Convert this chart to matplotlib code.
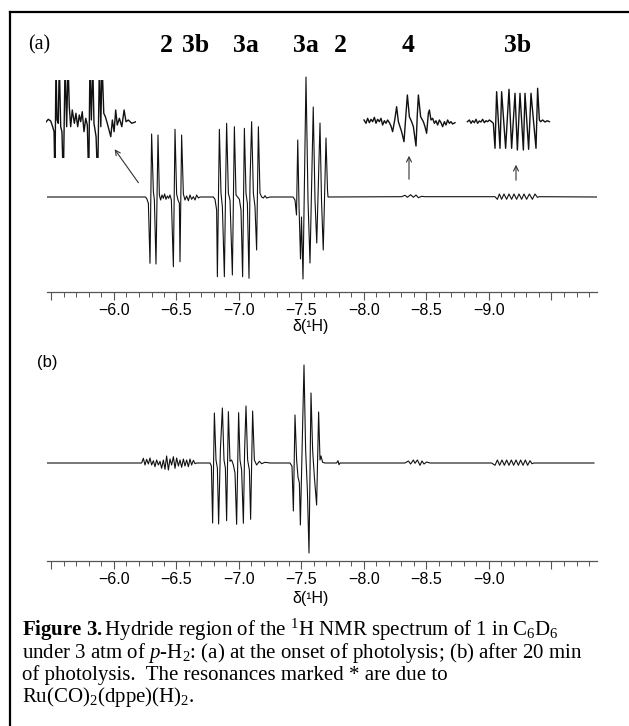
import matplotlib
matplotlib.use("Agg")
import matplotlib.pyplot as plt
from matplotlib.lines import Line2D
from matplotlib.ticker import FixedLocator, MultipleLocator, FuncFormatter
from matplotlib.transforms import blended_transform_factory

plt.rcParams['font.family'] = ['Liberation Sans', 'DejaVu Sans']
plt.rcParams['mathtext.fontset'] = 'custom'
plt.rcParams['mathtext.rm'] = 'Liberation Serif'
plt.rcParams['mathtext.it'] = 'Liberation Serif:italic'
plt.rcParams['mathtext.bf'] = 'Liberation Serif:bold'

# -------------------------
# data (ppm, intensity a.u.)
# -------------------------
# (a) onset of photolysis
a_ppm = [-5.46, -6.25,
         -6.261, -6.275, -6.288, -6.301, -6.315, -6.323, -6.336, -6.352, -6.363, -6.373,
         -6.384, -6.395, -6.405, -6.416, -6.427, -6.437, -6.448, -6.459, -6.475, -6.488,
         -6.501, -6.512, -6.523, -6.528, -6.541, -6.555, -6.568, -6.581, -6.595, -6.608,
         -6.621, -6.635, -6.648, -6.661, -6.675, -6.688,
         -6.795, -6.808, -6.821, -6.827, -6.843, -6.856, -6.867, -6.883, -6.893, -6.901,
         -6.915, -6.928, -6.947, -6.963, -6.976, -6.989, -7.003, -7.016, -7.029, -7.043,
         -7.056, -7.067, -7.080, -7.088, -7.101, -7.115, -7.128, -7.141, -7.155, -7.168,
         -7.181, -7.195, -7.208, -7.221, -7.248,
         -7.432, -7.448, -7.460, -7.470, -7.480, -7.492, -7.500, -7.512, -7.536, -7.552,
         -7.568, -7.594, -7.608, -7.622, -7.648, -7.660, -7.674, -7.696, -7.708, -7.712,
         -8.301, -8.328, -8.347, -8.373, -8.395, -8.416, -8.435, -8.461, -8.488,
         -9.048, -9.067, -9.083, -9.101, -9.120, -9.141, -9.160, -9.181, -9.200, -9.221,
         -9.240, -9.261, -9.280, -9.301, -9.323, -9.347, -9.368, -9.387, -9.403, -9.86]
a_int = [0, 0,
         -1.3, -6.3, -66.3, 63, 5.3, -3, -67, 62, 2, -3,
         2, -1.3, 3, -2.3, 1, -1.3, 2, -3, -69.7, 67.7,
         3, -3, -6.3, -64.7, 62, 3, -3, 1, -3.7, 2,
         -2.3, 0.3, -3, 2, -1, 0,
         0, -2.3, -13, -79.7, 67.7, 3.7, -9.7, -79.7, 10.3, 73.7,
         3.7, -3, -78, 70.3, 2, 0, -2.3, -13, -79.7, 68.7,
         3.7, -6.3, -81.3, 13.7, 75.3, 3.7, -9.7, -53, 70.3, 3.7,
         0, -1, 1.3, -1, 0,
         0, -3, -18, 57, -8, -62, -20, -82, 120, -3,
         -66, 90, -3, -46, 74, -3, -53, 59, 7, 0,
         0.3, 1.7, -0.3, 2.3, -0.3, 2, -0.7, 0.7, 0.3,
         0.3, -2.3, 3, -2.3, 3, -2.3, 3, -2.3, 3, -2.3,
         3, -2.3, 3, -2.3, 3, -2.3, 3, -0.3, 0.3, 0]

# (b) after 20 min of photolysis
b_ppm = [-5.46, -6.221,
         -6.235, -6.248, -6.261, -6.275, -6.288, -6.301, -6.315, -6.328, -6.341, -6.355,
         -6.368, -6.381, -6.395, -6.408, -6.421, -6.435, -6.448, -6.461, -6.475, -6.488,
         -6.501, -6.515, -6.528, -6.541, -6.555, -6.568, -6.581, -6.595, -6.608, -6.621,
         -6.635, -6.648, -6.661,
         -6.768, -6.779, -6.789, -6.803, -6.816, -6.827, -6.837, -6.851, -6.867, -6.880,
         -6.891, -6.901, -6.915, -6.928, -6.941, -6.955, -6.968, -6.981, -6.997, -7.008,
         -7.021, -7.035, -7.045, -7.056, -7.069, -7.083, -7.093, -7.109, -7.123, -7.141,
         -7.163, -7.181, -7.208, -7.248,
         -7.408, -7.424, -7.435, -7.448, -7.461, -7.472, -7.483, -7.491, -7.520, -7.533,
         -7.547, -7.560, -7.576, -7.589, -7.603, -7.621, -7.637, -7.648, -7.656, -7.669,
         -7.688, -7.781, -7.792, -7.800, -7.808,
         -8.328, -8.355, -8.373, -8.395, -8.408, -8.427, -8.448, -8.464, -8.480, -8.501,
         -8.528,
         -9.021, -9.048, -9.067, -9.085, -9.104, -9.123, -9.141, -9.160, -9.179, -9.197,
         -9.216, -9.235, -9.253, -9.272, -9.291, -9.309, -9.328, -9.344, -9.360, -9.84]
b_int = [0, 0,
         4.7, -2, 3.7, -1, 5, -2, 2.3, -3.7, 3, -2,
         1.7, -5.3, 3, -6.3, 7, -7, 4, -2, 6.3, -5.3,
         5, -3, 3, -4.3, 4, -3, 3, -3.7, 4, -2,
         2.7, -0.7, 0,
         0, -3, -60, 50, 3, -5, -61, 13, 55, 3,
         -5, -57.7, 51.3, 1.7, 3, -2, -10, -61.3, 50.3, 3,
         -7, -60.3, 13, 57, 3, -7, -56.3, 52, 3, -2,
         1.7, -0.7, 0.7, 0,
         0, -3.3, -48, 48, 3, -14, -20, -62, 98, 13,
         -27, -90, 70, 13, -14, -42, 51, 3, 7, 0.7,
         0, 0, 2.3, -1.7, 0,
         0, 2, -1, 3, -0.3, 3, -2.3, 2, -1, 1,
         0,
         0, -2.3, 3, -2.3, 3, -2.3, 3, -2.3, 3, -2.3,
         3, -2.3, 3, -2.3, 3, -2.3, 2.3, -0.7, 0, 0]

# expansion of the first multiplet (top left inset)
inset1_ppm = [-6.230, -6.243, -6.257, -6.268, -6.276, -6.281, -6.287, -6.293, -6.300, -6.306,
              -6.314, -6.321, -6.329, -6.339, -6.348, -6.356, -6.363, -6.371, -6.380, -6.392,
              -6.401, -6.411, -6.420, -6.428, -6.437, -6.447, -6.457, -6.466, -6.474, -6.481,
              -6.489, -6.497, -6.504, -6.516, -6.525, -6.535, -6.543, -6.550, -6.560, -6.569,
              -6.580, -6.590, -6.600, -6.609, -6.619, -6.628, -6.637, -6.649, -6.663, -6.676,
              -6.687, -6.700, -6.720, -6.744]
inset1_int = [0, 2.7, 1, -4.7, -9.7, -60, 60, 2, -1.3, 60,
              -4.7, -9.7, -60, 60, -4.7, 60, 15.3, -4.7, 12, -1.3,
              8.7, -4.7, 7, 0.3, 10.3, -9.7, 3.7, -3, -60, 60,
              2, 60, -1.3, -14.7, -60, 60, -4.7, 60, 8.7, 5.3,
              -1.3, -8, -14.7, 2, -9.7, 12, -3, 3.7, -4.7, 12,
              0.3, 2, -1.3, 0.3]

# vertical expansions of the weak resonances of 4 and 3b
inset4_ppm = [-8.000, -8.016, -8.029, -8.043, -8.056, -8.069, -8.083, -8.096, -8.109, -8.123,
              -8.136, -8.149, -8.163, -8.176, -8.189, -8.203, -8.216, -8.229, -8.248, -8.261,
              -8.275, -8.288, -8.301, -8.320, -8.336, -8.347, -8.363, -8.381, -8.395, -8.416,
              -8.427, -8.435, -8.453, -8.475, -8.488, -8.501, -8.515, -8.523, -8.536, -8.549,
              -8.563, -8.576, -8.589, -8.603, -8.616, -8.629, -8.643, -8.656, -8.669, -8.683,
              -8.696, -8.709, -8.728]
inset4_int = [1.7, -1.6, 3.4, -1.0, 2.4, 0.0, 4.4, -1.6, 2.4, 0.0,
              3.4, -3.3, 1.0, -1.6, 1.7, -1.0, -4.3, -10.0, 3.4, 15.0,
              0.0, -5.0, -10.0, -20.0, 8.4, 26.7, 5.0, 0.0, -5.0, -24.3,
              8.4, 26.7, 5.0, 0.0, -5.0, -11.6, 8.4, 11.7, 1.7, 3.4,
              -1.6, 1.0, -3.3, 1.7, -1.0, -5.0, 0.0, -3.3, 1.7, -1.6,
              0.0, -2.3, -1.0]

inset3b_ppm = [-8.827, -8.843, -8.856, -8.869, -8.883, -8.896, -8.909, -8.923, -8.936, -8.949,
               -8.963, -8.976, -8.989, -9.003, -9.021, -9.035, -9.048, -9.061, -9.088, -9.101,
               -9.133, -9.160, -9.181, -9.208, -9.227, -9.248, -9.275, -9.288, -9.317, -9.336,
               -9.376, -9.389, -9.403, -9.413, -9.429, -9.448, -9.467, -9.483]
inset3b_int = [0, 1.7, -1.6, 1, -1, 2.4, -1.6, 0.7, -0.3, 2.4,
               -1, 1, 0, 1.7, 0, -1.6, -26.6, 30, -26.6, 30,
               -26.6, 32.4, -26.6, 28.4, -28.3, 28.4, -28.3, 28.4, -27.6, 28.4,
               -26.6, 33.4, 1.7, 0, 1.7, -0.3, 1, 0]

peak_labels = ["2", "3b", "3a", "3a", "2", "4", "3b"]
peak_label_ppm = [-6.416, -6.656, -7.056, -7.536, -7.808, -8.352, -9.232]

major_ticks = [-5.5, -6.0, -6.5, -7.0, -7.5, -8.0, -8.5, -9.0, -9.5]
labelled_ticks = [-6.0, -6.5, -7.0, -7.5, -8.0, -8.5, -9.0]

# arrows: (tail ppm, tail intensity, head ppm, head intensity)
arrows = [(-6.208, 12, -5.992, 50), (-8.36, 15, -8.36, 44), (-9.216, 14, -9.216, 35)]

caption = [
    r"$\mathbf{Figure\ 3.}$Hydride region of the $^{1}$H NMR spectrum of 1 in C$_{6}$D$_{6}$",
    r"under 3 atm of $p$-H$_{2}$: (a) at the onset of photolysis; (b) after 20 min",
    r"of photolysis.  The resonances marked * are due to",
    r"Ru(CO)$_{2}$(dppe)(H)$_{2}$.",
]

# -------------------------
# figure
# -------------------------
W, H = 629, 726
fig = plt.figure(figsize=(W / 100, H / 100), dpi=100)


def box(x0, y0, x1, y1):
    # pixel box, top-left origin -> figure fraction
    return [x0 / W, 1 - y1 / H, (x1 - x0) / W, (y1 - y0) / H]


XLIM = (-5.464, -9.864)


def fmt(v, pos):
    if any(abs(v - t) < 1e-6 for t in labelled_ticks):
        return f"{v:.1f}".replace("-", "\u2212")
    return ""


def spectrum_axes(rect, ylim):
    ax = fig.add_axes(rect)
    ax.set_xlim(*XLIM)
    ax.set_ylim(*ylim)
    for s in ["left", "right", "top"]:
        ax.spines[s].set_visible(False)
    ax.spines["bottom"].set_color("#555555")
    ax.spines["bottom"].set_linewidth(0.9)
    ax.set_yticks([])
    ax.xaxis.set_major_locator(FixedLocator(major_ticks))
    ax.xaxis.set_minor_locator(MultipleLocator(0.1))
    ax.xaxis.set_major_formatter(FuncFormatter(fmt))
    ax.tick_params(axis="x", which="major", length=6, width=0.8, color="#555555",
                   labelsize=11.5, pad=2)
    ax.tick_params(axis="x", which="minor", length=3.5, width=0.7, color="#555555")
    ax.patch.set_alpha(0)
    return ax


ax_a = spectrum_axes(box(47, 60, 597, 292), (-95, 137))
ax_a.plot(a_ppm, a_int, color="#111111", lw=0.8)

ax_b = spectrum_axes(box(47, 340, 597, 561), (-98, 123))
ax_b.plot(b_ppm, b_int, color="#111111", lw=0.8)

for ax, y in [(ax_a, 327), (ax_b, 598)]:
    tr = blended_transform_factory(ax.transData, fig.transFigure)
    ax.text(-7.57, 1 - y / H, "\u03b4(\u00b9H)", transform=tr, ha="center", va="center",
            fontsize=11.5)

# insets
ax_i1 = fig.add_axes(box(46, 80, 136, 158))
ax_i1.set_xlim(-6.23, -6.744)
ax_i1.set_ylim(-36, 42)
ax_i1.plot(inset1_ppm, inset1_int, color="#111111", lw=1.0)
ax_i1.axis("off")

ax_i2 = fig.add_axes(box(47, 80, 597, 160))
ax_i2.set_xlim(*XLIM)
ax_i2.set_ylim(-38.3, 41.7)
ax_i2.plot(inset4_ppm, inset4_int, color="#111111", lw=1.0)
ax_i2.plot(inset3b_ppm, inset3b_int, color="#111111", lw=1.0)
ax_i2.axis("off")

for x0, y0, x1, y1 in arrows:
    ax_a.annotate("", xy=(x1, y1), xytext=(x0, y0),
                  arrowprops=dict(arrowstyle="->", color="#333333", lw=0.8,
                                  mutation_scale=9))

# labels
tr_a = blended_transform_factory(ax_a.transData, fig.transFigure)
for lab, p in zip(peak_labels, peak_label_ppm):
    ax_a.text(p, 1 - 45 / H, lab, transform=tr_a, ha="center", va="center",
              fontsize=18.5, fontweight="bold", family="Liberation Serif")
fig.text(28 / W, 1 - 45 / H, "(a)", ha="left", va="center", fontsize=14.3,
         family="Liberation Serif")
fig.text(37 / W, 1 - 363 / H, "(b)", ha="left", va="center", fontsize=12)

# caption
for i, line in enumerate(caption):
    fig.text(22 / W, 1 - (636 + 22 * i) / H, line, ha="left", va="baseline",
             fontsize=15, family="Liberation Serif")

# frame
fig.add_artist(Line2D([10 / W, 10 / W], [0, 1 - 12 / H], color="black", lw=1.6))
fig.add_artist(Line2D([10 / W, 1], [1 - 12 / H, 1 - 12 / H], color="black", lw=1.6))

fig.savefig("out.png", dpi=100)
